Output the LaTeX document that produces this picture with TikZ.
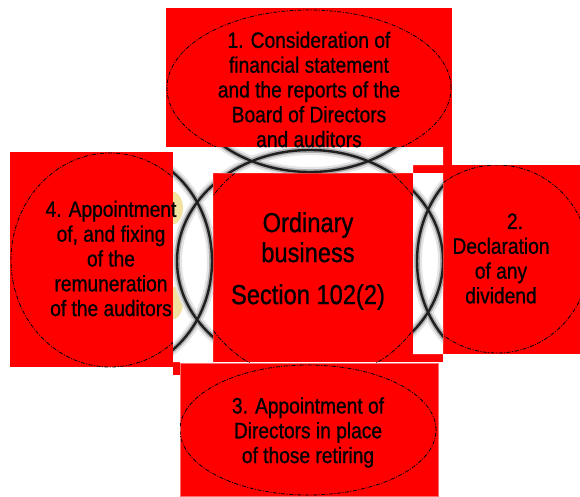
\documentclass[tikz,border=0pt]{standalone}
\usepackage{fontspec}
\setmainfont{Liberation Sans}[FakeStretch=0.86,FakeBold=0.8]
\definecolor{blob}{RGB}{242,226,160}
\definecolor{boxedge}{RGB}{255,110,110}
\tikzset{
  redbox/.style={fill=red},
  dashring/.style={draw=black, line width=0.8pt, dash pattern=on 4pt off 1.5pt on 1pt off 1.5pt},
  halo/.style={draw=black!10, line width=10pt},
  halob/.style={draw=black!32, line width=5.5pt},
  ringline/.style={draw=black!88, line width=2.4pt},
  lbl/.style={align=center, inner sep=0pt, font=\fontsize{22.3}{24.8}\selectfont},
  lblc/.style={align=center, inner sep=0pt, font=\fontsize{27.5}{30}\selectfont}
}
\begin{document}
\begin{tikzpicture}[x=1pt,y=-1pt]
\useasboundingbox (0,0) rectangle (580,496);
\fill[white] (0,0) rectangle (580,496);
% top box
\fill[redbox] (166,8) rectangle (452,147);
\fill[redbox] (443,147) rectangle (452,165);
\begin{scope}
  \clip (166,8) rectangle (452,147);
  \draw[dashring] (309,88) ellipse [x radius=142pt, y radius=78pt];
\end{scope}
% left box
\fill[redbox] (10,152) rectangle (173,367);
\begin{scope}
  \clip (10,152) rectangle (173,367);
  \draw[dashring] (110,260) ellipse [x radius=99pt, y radius=107pt];
\end{scope}
% right box
\fill[redbox] (413,165) rectangle (580,354);
\begin{scope}
  \clip (413,165) rectangle (580,354);
  \draw[dashring] (497,259) ellipse [x radius=92pt, y radius=94pt];
\end{scope}
% centre box
\fill[redbox] (213,173) rectangle (443,362);
\begin{scope}
  \clip (213,173) rectangle (413,362);
  \draw[dashring] (313,263) ellipse [x radius=122pt, y radius=117pt];
\end{scope}
% bottom box
\fill[redbox] (173,362) rectangle (180,375);
\filldraw[redbox, draw=boxedge, line width=0.6pt] (180,363) rectangle (438,496);
\begin{scope}
  \clip (180,363) rectangle (438,496);
  \draw[dashring] (308,430) ellipse [x radius=128pt, y radius=65pt];
\end{scope}
% ring picture showing between the boxes
\begin{scope}
  \clip (173,147) rectangle (443,165) (173,165) rectangle (413,173)
        (173,173) rectangle (213,362) (413,173) rectangle (443,354);
  \fill[white] (160,140) rectangle (450,370);
  \fill[blob] (171,208) ellipse [x radius=12pt, y radius=17pt];
  \fill[blob] (171,303) ellipse [x radius=12pt, y radius=17pt];
  \foreach \s in {halo,halob,ringline}{
    \draw[\s] (310,261) ellipse [x radius=133pt, y radius=111pt];
    \draw[\s] (310,64) ellipse [x radius=133pt, y radius=108pt];
    \draw[\s] (114,261) ellipse [x radius=98pt, y radius=111pt];
    \draw[\s] (515,261) ellipse [x radius=98pt, y radius=111pt];
  }
\end{scope}
% texts
\node[lbl] (t1) at (309,89.5) {1. Consideration of\\financial statement\\and the reports of the\\Board of Directors\\and auditors};
\node[lbl] (t4) at (111,258.5) {4. Appointment\\of, and fixing\\of the\\remuneration\\of the auditors};
\node[lbl] (t2) at (501,258.5) {\hspace*{28pt}2.\\Declaration\\of any\\dividend};
\node[lbl] (t3) at (308,432.5) {3. Appointment of\\Directors in place\\of those retiring};
\node[lblc] (tc) at (308,261) {Ordinary\\business\\[12pt]Section 102(2)};
\end{tikzpicture}
\end{document}
